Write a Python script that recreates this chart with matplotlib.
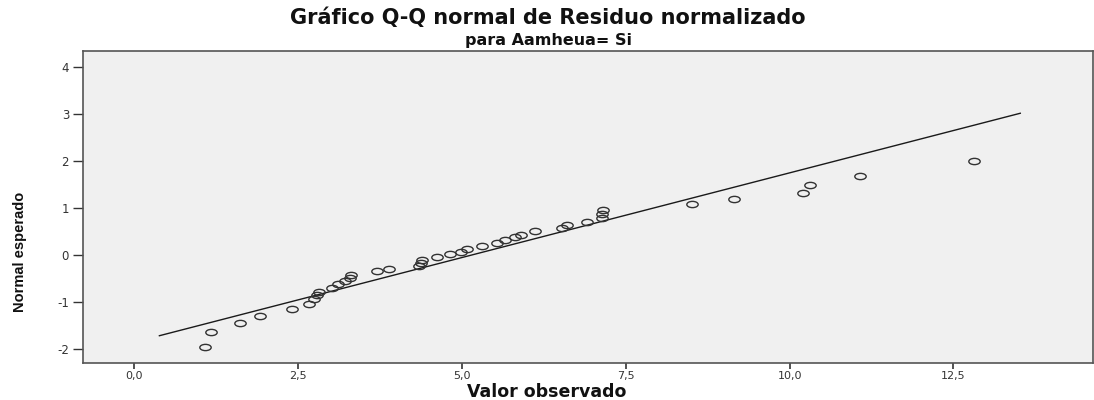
import matplotlib
matplotlib.use("Agg")
import matplotlib.pyplot as plt
from matplotlib.path import Path
import matplotlib.transforms as mtransforms
from matplotlib import font_manager

# ---- data ----
observed = [1.08, 1.17, 1.61, 1.91, 2.41, 2.66, 2.74, 2.79, 2.81, 3.02,
            3.11, 3.21, 3.29, 3.30, 3.70, 3.89, 4.34, 4.38, 4.39, 4.61,
            4.82, 4.98, 5.07, 5.31, 5.53, 5.66, 5.81, 5.90, 6.12, 6.53,
            6.60, 6.90, 7.13, 7.14, 7.15, 8.51, 9.15, 10.21, 10.31, 11.08,
            12.82]
expected = [-1.96, -1.65, -1.45, -1.30, -1.16, -1.05, -0.94, -0.86, -0.80, -0.70,
            -0.63, -0.56, -0.50, -0.43, -0.35, -0.30, -0.23, -0.17, -0.11, -0.05,
            0.01, 0.07, 0.12, 0.19, 0.25, 0.31, 0.37, 0.43, 0.50, 0.57,
            0.63, 0.70, 0.78, 0.87, 0.96, 1.08, 1.19, 1.32, 1.48, 1.68,
            1.99]
line_x = [0.38, 13.52]
line_y = [-1.72, 3.01]

xticks = [0.0, 2.5, 5.0, 7.5, 10.0, 12.5]
xtick_labels = ["0,0", "2,5", "5,0", "7,5", "10,0", "12,5"]
yticks = [-2, -1, 0, 1, 2, 3, 4]
ytick_labels = ["-2", "-1", "0", "1", "2", "3", "4"]

title = "Gráfico Q-Q normal de Residuo normalizado"
subtitle = "para Aamheua= Si"
xlabel = "Valor observado"
ylabel = "Normal esperado"

# ---- figure ----
fig = plt.figure(figsize=(10.94, 4.0), dpi=100)
ax = fig.add_axes([83 / 1094, 1 - 363 / 400, (1093 - 83) / 1094, (363 - 50.7) / 400])
ax.set_facecolor("#f0f0f0")

ax.plot(line_x, line_y, color="#1a1a1a", lw=1.0, zorder=2)

ell = Path.unit_circle().transformed(mtransforms.Affine2D().scale(1.0, 0.55))
ax.plot(observed, expected, linestyle="none", marker=ell, markersize=8.2,
        markerfacecolor="none", markeredgecolor="#333333", markeredgewidth=1.0, zorder=3)

ax.set_xlim(-0.786, 14.63)
ax.set_ylim(-2.30, 4.34)
ax.set_xticks(xticks)
ax.set_xticklabels(xtick_labels)
ax.set_yticks(yticks)
ax.set_yticklabels(ytick_labels)

for s in ax.spines.values():
    s.set_color("#555555")
    s.set_linewidth(1.2)

ax.tick_params(axis="x", direction="out", length=4, width=1.2, color="#333333",
               labelsize=8, labelcolor="#333333", pad=2)
ax.tick_params(axis="y", direction="out", length=7, width=1.0, color="#333333",
               labelsize=8.5, labelcolor="#333333", pad=3)

fig.text(0.501, 1 - 18 / 400, title, ha="center", va="center",
         fontsize=15, fontweight="bold", color="#111111")
fig.text(0.501, 1 - 41 / 400, subtitle, ha="center", va="center",
         fontsize=11.5, fontweight="bold", color="#111111")
fig.text(0.5, 1 - 392 / 400, xlabel, ha="center", va="center",
         fontsize=12.5, fontweight="bold", color="#111111")

names = {f.name for f in font_manager.fontManager.ttflist}
narrow = "Liberation Sans Narrow" if "Liberation Sans Narrow" in names else "Liberation Sans"
fig.text(20 / 1094, 1 - 252 / 400, ylabel, ha="center", va="center", rotation=90,
         fontsize=10.5, fontweight="bold", color="#111111", family=[narrow, "DejaVu Sans"])

fig.savefig("out.png", dpi=100, facecolor="white")
